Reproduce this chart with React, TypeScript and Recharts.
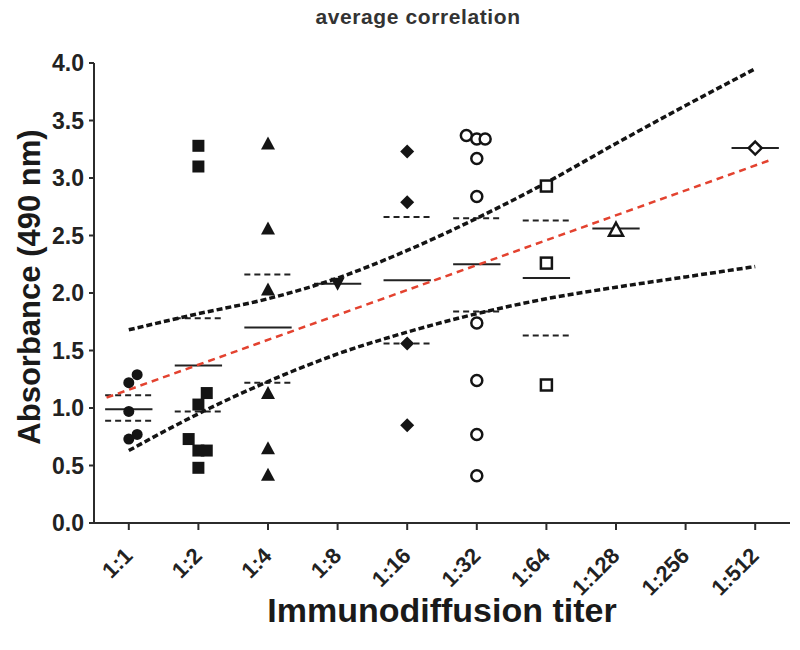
import React from "react";
import { ComposedChart, Scatter, Line, XAxis, YAxis, ReferenceLine, Label } from "recharts";

const titers = ["1:1", "1:2", "1:4", "1:8", "1:16", "1:32", "1:64", "1:128", "1:256", "1:512"];
const yTicks = [0, 0.5, 1, 1.5, 2, 2.5, 3, 3.5, 4];

// x = titer index (with the small side offsets seen in the picture), y = absorbance
const t1 = [{ x: 0, y: 1.22 }, { x: 0.12, y: 1.29 }, { x: 0, y: 0.97 }, { x: 0, y: 0.73 }, { x: 0.12, y: 0.77 }];
const t2 = [
  { x: 1, y: 3.28 }, { x: 1, y: 3.1 }, { x: 1.12, y: 1.13 }, { x: 1, y: 1.03 },
  { x: 0.86, y: 0.73 }, { x: 1, y: 0.63 }, { x: 1.12, y: 0.63 }, { x: 1, y: 0.48 },
];
const t4 = [{ x: 2, y: 3.3 }, { x: 2, y: 2.56 }, { x: 2, y: 2.03 }, { x: 2, y: 1.13 }, { x: 2, y: 0.65 }, { x: 2, y: 0.42 }];
const t8 = [{ x: 3, y: 2.08 }];
const t16 = [{ x: 4, y: 3.23 }, { x: 4, y: 2.79 }, { x: 4, y: 1.56 }, { x: 4, y: 0.85 }];
const t32 = [
  { x: 4.85, y: 3.37 }, { x: 5, y: 3.34 }, { x: 5.12, y: 3.34 }, { x: 5, y: 3.17 }, { x: 5, y: 2.84 },
  { x: 5, y: 1.74 }, { x: 5, y: 1.24 }, { x: 5, y: 0.77 }, { x: 5, y: 0.41 },
];
const t64 = [{ x: 6, y: 2.93 }, { x: 6, y: 2.26 }, { x: 6, y: 1.2 }];
const t128 = [{ x: 7, y: 2.55 }];
const t512 = [{ x: 9, y: 3.26 }];

const means = [0.99, 1.37, 1.7, 2.08, 2.11, 2.25, 2.13, 2.56, null, 3.26];
const errHigh = [1.11, 1.78, 2.16, null, 2.66, 2.65, 2.63, null, null, null];
const errLow = [0.89, 0.97, 1.22, null, 1.56, 1.84, 1.63, null, null, null];

const fitLine = [{ x: -0.32, y: 1.09 }, { x: 9.19, y: 3.15 }];
const ciUpper = [1.68, 1.82, 1.95, 2.13, 2.37, 2.65, 2.96, 3.3, 3.63, 3.95];
const ciLower = [0.63, 0.95, 1.23, 1.47, 1.66, 1.82, 1.95, 2.05, 2.14, 2.23];

const ink = "#141414";
const half = 0.34;
const font = "Liberation Sans, Arial, sans-serif";

const dot = (p: any) => <circle cx={p.cx} cy={p.cy} r={5.5} fill={ink} />;
const square = (p: any) => <rect x={p.cx - 6} y={p.cy - 6} width={12} height={12} fill={ink} />;
const triUp = (p: any) => <path d={`M${p.cx},${p.cy - 7}L${p.cx + 7},${p.cy + 6}L${p.cx - 7},${p.cy + 6}Z`} fill={ink} />;
const triDown = (p: any) => <path d={`M${p.cx},${p.cy + 7}L${p.cx + 7},${p.cy - 6}L${p.cx - 7},${p.cy - 6}Z`} fill={ink} />;
const diamond = (p: any) => <path d={`M${p.cx},${p.cy - 7}L${p.cx + 7},${p.cy}L${p.cx},${p.cy + 7}L${p.cx - 7},${p.cy}Z`} fill={ink} />;
const ring = (p: any) => <circle cx={p.cx} cy={p.cy} r={5.5} fill="#fff" stroke={ink} strokeWidth={2.5} />;
const box = (p: any) => <rect x={p.cx - 5.5} y={p.cy - 5.5} width={11} height={11} fill="#fff" stroke={ink} strokeWidth={2.5} />;
const openTri = (p: any) => <path d={`M${p.cx},${p.cy - 7}L${p.cx + 7},${p.cy + 6}L${p.cx - 7},${p.cy + 6}Z`} fill="#fff" stroke={ink} strokeWidth={2.5} />;
const openDiamond = (p: any) => <path d={`M${p.cx},${p.cy - 6.5}L${p.cx + 6.5},${p.cy}L${p.cx},${p.cy + 6.5}L${p.cx - 6.5},${p.cy}Z`} fill="#fff" stroke={ink} strokeWidth={2.5} />;

const XTick = (props: any) => {
  const { x, y, payload } = props;
  const ax = x + 5;
  const ay = y + 25;
  return (
    <text x={ax} y={ay} transform={`rotate(-45, ${ax}, ${ay})`} textAnchor="end" fontSize={22} fontWeight="bold" fill="#222" fontFamily={font}>
      {titers[payload.value]}
    </text>
  );
};

const XTitle = (props: any) => {
  const vb = props.viewBox || {};
  const cx = (vb.x ?? 0) + (vb.width ?? 0) / 2;
  const cy = (vb.y ?? 0) + 87;
  return (
    <text x={cx} y={cy} textAnchor="middle" dominantBaseline="central" fontSize={34} fontWeight="bold" fill="#1a1a1a" fontFamily={font}>
      Immunodiffusion titer
    </text>
  );
};

const YTitle = (props: any) => {
  const vb = props.viewBox || {};
  const cx = (vb.x ?? 0) + 21;
  const cy = (vb.y ?? 0) + (vb.height ?? 0) / 2 - 6;
  return (
    <text x={cx} y={cy} transform={`rotate(-90, ${cx}, ${cy})`} textAnchor="middle" dominantBaseline="central" fontSize={31} fontWeight="bold" fill="#1a1a1a" fontFamily={font}>
      Absorbance (490 nm)
    </text>
  );
};

const segment = (i: number, v: number) => [{ x: i - half, y: v }, { x: i + half, y: v }];

export default function App() {
  const upperData = ciUpper.map((y, i) => ({ x: i, y }));
  const lowerData = ciLower.map((y, i) => ({ x: i, y }));

  return (
    <div style={{ position: "relative", width: 792, height: 630, fontFamily: font }}>
      <div style={{ position: "absolute", left: 410, top: -2, transform: "translateX(-50%)", fontSize: 21, letterSpacing: 0.6, fontWeight: "bold", color: "#333", whiteSpace: "nowrap", lineHeight: "22px" }}>
        average correlation
      </div>
      <ComposedChart width={792} height={630} margin={{ top: 55, right: 10, left: 0, bottom: 0 }}>
        <XAxis
          type="number"
          dataKey="x"
          domain={[-0.5, 9.5]}
          ticks={titers.map((_, i) => i)}
          interval={0}
          allowDataOverflow
          height={115}
          tickSize={7}
          tick={<XTick />}
          axisLine={{ stroke: "#2b2b2b", strokeWidth: 2 }}
          tickLine={{ stroke: "#2b2b2b", strokeWidth: 2 }}
        >
          <Label content={XTitle} />
        </XAxis>
        <YAxis
          type="number"
          dataKey="y"
          domain={[0, 4]}
          ticks={yTicks}
          interval={0}
          width={86}
          tickSize={5}
          tickMargin={5}
          tickFormatter={(v: number) => v.toFixed(1)}
          tick={{ fontSize: 23, fontWeight: "bold", fill: "#222", fontFamily: font }}
          axisLine={{ stroke: "#2b2b2b", strokeWidth: 2 }}
          tickLine={{ stroke: "#2b2b2b", strokeWidth: 2 }}
        >
          <Label content={YTitle} />
        </YAxis>

        {errHigh.map((v, i) =>
          v == null ? null : (
            <ReferenceLine key={`eh${i}`} segment={segment(i, v)} stroke="#222" strokeWidth={2} strokeDasharray="6 4" ifOverflow="visible" />
          )
        )}
        {errLow.map((v, i) =>
          v == null ? null : (
            <ReferenceLine key={`el${i}`} segment={segment(i, v)} stroke="#222" strokeWidth={2} strokeDasharray="6 4" ifOverflow="visible" />
          )
        )}
        {means.map((v, i) =>
          v == null ? null : (
            <ReferenceLine key={`m${i}`} segment={segment(i, v)} stroke="#222" strokeWidth={2} ifOverflow="visible" />
          )
        )}

        <Line data={upperData} dataKey="y" type="monotone" stroke={ink} strokeWidth={3.5} strokeDasharray="6 3" dot={false} activeDot={false} isAnimationActive={false} />
        <Line data={lowerData} dataKey="y" type="monotone" stroke={ink} strokeWidth={3.5} strokeDasharray="6 3" dot={false} activeDot={false} isAnimationActive={false} />
        <Line data={fitLine} dataKey="y" type="linear" stroke="#e3422f" strokeWidth={2.5} strokeDasharray="7 5" dot={false} activeDot={false} isAnimationActive={false} />

        <Scatter data={t1} shape={dot} isAnimationActive={false} />
        <Scatter data={t2} shape={square} isAnimationActive={false} />
        <Scatter data={t4} shape={triUp} isAnimationActive={false} />
        <Scatter data={t8} shape={triDown} isAnimationActive={false} />
        <Scatter data={t16} shape={diamond} isAnimationActive={false} />
        <Scatter data={t32} shape={ring} isAnimationActive={false} />
        <Scatter data={t64} shape={box} isAnimationActive={false} />
        <Scatter data={t128} shape={openTri} isAnimationActive={false} />
        <Scatter data={t512} shape={openDiamond} isAnimationActive={false} />
      </ComposedChart>
    </div>
  );
}
